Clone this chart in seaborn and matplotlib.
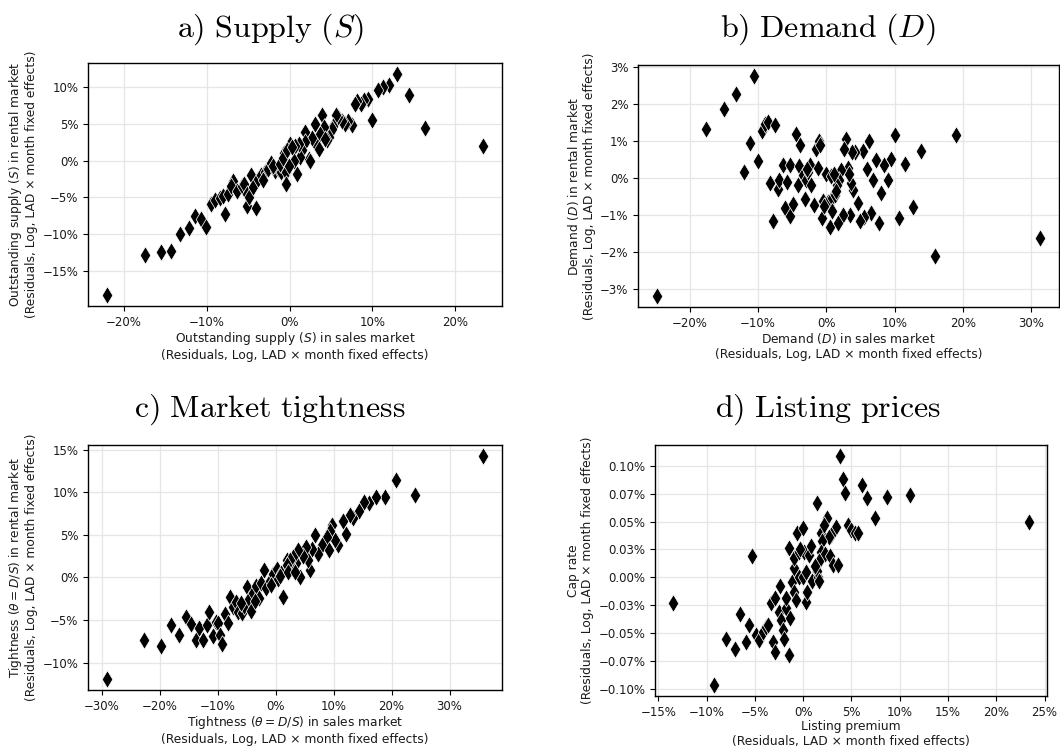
import matplotlib
matplotlib.use("Agg")
import matplotlib.pyplot as plt
from matplotlib.ticker import MultipleLocator, FixedLocator, FuncFormatter
import seaborn as sns

# --- a) Outstanding supply: sales market (x) vs rental market (y), in %
supply_sales = [-22.1, -17.5, -15.6, -14.3, -13.2, -12.2, -11.4, -10.7, -10.1, -9.5,
                -9.0, -8.4, -8.0, -7.8, -7.4, -6.9, -7.1, -6.4, -5.8, -5.5,
                -5.2, -5.1, -4.9, -4.7, -4.4, -4.1, -3.8, -3.4, -3.0, -3.2,
                -2.6, -2.3, -1.8, -1.4, -1.0, -0.65, -0.4, -0.4, -2.0, -1.2,
                -0.8, 13.0, 12.0, 11.3, 10.7, 14.4, 16.4, 23.4, 10.0, 9.5,
                9.05, 8.6, 8.2, 7.9, 7.5, 7.1, 6.7, 6.3, 5.9, 5.6,
                5.3, 5.1, 4.7, 4.5, 3.9, 4.1, 3.7, 3.1, 3.3, 2.7,
                2.3, 1.9, 1.85, 1.5, 1.3, 1.1, 0.7, 0.5, 0.1, -0.1,
                -0.3, 0.85, 0.3, 2.5, 3.5, 4.3]
supply_rental = [-18.2, -12.8, -12.4, -12.2, -9.9, -9.1, -7.5, -7.9, -9.0, -5.9,
                 -5.4, -5.1, -4.8, -7.2, -4.5, -2.8, -3.5, -4.1, -3.4, -3.2,
                 -4.5, -6.2, -5.0, -1.9, -3.6, -6.4, -2.5, -2.0, -1.5, -2.6,
                 -1.1, -0.3, -1.4, -1.1, -1.5, 1.0, -1.6, -3.2, -0.8, -0.5,
                 0.4, 11.7, 10.2, 10.0, 9.5, 8.9, 4.4, 2.0, 5.5, 8.3,
                 8.2, 7.6, 8.0, 7.7, 4.8, 5.4, 4.9, 5.4, 5.9, 6.1,
                 4.7, 4.3, 3.2, 2.8, 6.1, 4.5, 3.6, 4.9, 2.0, 3.1,
                 0.2, 3.8, 2.5, 1.4, 0.5, 2.3, 1.9, -0.1, 2.3, -0.8,
                 1.4, -1.8, 1.8, 0.0, 1.6, 2.9]

# --- b) Demand: sales market (x) vs rental market (y), in %
demand_sales = [-24.8, -17.7, -15.0, -13.3, -10.6, -12.1, -11.2, -9.95, -9.4, -9.0,
                -8.5, -7.5, -8.2, -7.8, -7.1, -6.9, -6.35, -5.7, -5.4, -6.0,
                -5.4, -4.9, -4.5, -3.9, -4.0, -4.1, -3.2, -3.4, -3.0, -2.7,
                -2.4, -2.3, -1.8, -1.2, -1.5, -1.1, -0.6, -0.5, 0.0, 0.5,
                0.7, 0.3, 0.9, 10.1, 19.0, 31.3, 15.9, 13.9, 12.7, 10.7,
                11.6, 9.5, 8.5, 9.0, 8.05, 7.7, 7.3, 6.9, 6.0, 6.3,
                6.6, 5.5, 5.0, 5.4, 4.6, 3.9, 3.6, 4.25, 3.75, 3.4,
                2.5, 2.9, 2.6, 3.1, 3.3, 2.1, 1.8, 1.6, 1.2, 1.1,
                1.7, 0.9, -1.0, -0.4, 1.4, -2.9]
demand_rental = [-3.2, 1.33, 1.86, 2.27, 2.76, 0.16, 0.95, 0.45, 1.28, 1.46,
                 1.5, 1.42, -0.15, -1.18, -0.29, -0.05, 0.34, -0.12, 0.34, -0.81,
                 -1.03, -0.72, 1.19, 0.88, 0.32, -0.2, -0.56, 0.07, -0.05, 0.16,
                 0.36, -0.2, -0.73, 0.26, 0.79, 0.99, -1.09, -0.63, 0.1, -1.32,
                 0.05, -0.66, -0.55, 1.15, 1.15, -1.63, -2.12, 0.73, -0.8, -1.09,
                 0.38, 0.52, 0.34, -0.06, -0.4, -1.23, 0.48, -0.05, 0.25, 0.99,
                 -0.96, -1.05, -1.18, 0.73, -0.69, -0.33, -0.15, 0.7, 0.7, -1.0,
                 -1.0, 1.06, 0.78, 0.28, 0.1, 0.21, -0.05, -0.2, -0.47, 0.1,
                 -1.23, -0.9, 0.9, -0.75, -0.35, 0.25]

# --- c) Market tightness: sales market (x) vs rental market (y), in %
tight_sales = [-29.1, -22.6, -19.8, -18.1, -16.7, -15.5, -14.65, -13.8, -13.2, -12.5,
               -11.9, -11.4, -10.8, -10.2, -9.9, -9.6, -9.2, -8.8, -8.2, -7.8,
               -7.4, -6.8, -6.5, -5.8, -5.5, -5.0, -4.6, -4.2, -3.9, -3.3,
               -2.9, -2.5, -2.0, -1.6, -1.0, -0.5, 0.2, 0.5, 1.3, 1.0,
               1.9, 35.8, 20.8, 24.0, 18.8, 17.4, 16.1, 15.2, 14.3, 13.4,
               12.85, 11.6, 12.2, 10.8, 10.3, 9.7, 9.4, 8.8, 8.0, 7.4,
               6.8, 6.2, 5.9, 5.6, 5.2, 4.8, 4.2, 3.9, 3.6, 3.0,
               2.75, 2.5, 1.9, -0.8, 0.8, 2.2, 3.3, -3.5, -6.0, 9.2]
tight_rental = [-11.9, -7.3, -8.1, -5.6, -6.7, -4.6, -5.5, -7.3, -5.95, -7.3,
                -5.6, -4.05, -6.9, -5.2, -5.4, -6.7, -7.8, -4.25, -5.4, -2.3,
                -3.5, -2.9, -4.0, -4.2, -3.4, -1.1, -2.5, -3.9, -1.8, -1.0,
                -2.4, -0.6, 0.9, -1.2, -0.4, 0.4, 1.0, -0.2, -2.3, 0.5,
                2.0, 14.25, 11.4, 9.65, 9.5, 9.45, 8.7, 8.85, 7.75, 6.97,
                7.35, 6.6, 5.1, 3.8, 4.4, 6.2, 5.4, 4.8, 3.8, 2.8,
                5.0, 3.3, 0.86, 2.0, 3.6, 2.5, 0.07, 3.2, 1.7, 2.4,
                1.1, 2.0, 1.5, -0.9, 0.2, 0.6, 0.6, -2.8, -3.0, 3.2]

# --- d) Listing premium (x, %) vs cap rate (y, %)
listing_premium = [-13.5, -9.25, -7.95, -7.1, -6.5, -5.95, -5.6, -5.3, -4.9, -4.6,
                   -4.2, -3.9, -3.6, -3.3, -2.95, -3.1, -2.9, -2.5, -2.45, -2.3,
                   -2.1, -1.95, -1.8, -1.8, -1.5, -1.35, -1.45, -1.15, -0.9, -0.6,
                   0.03, -1.0, -0.9, -0.4, -0.4, 0.0, 0.27, 0.44, 0.1, 0.6,
                   0.9, 1.47, 1.5, 1.85, 3.83, 4.1, 4.35, 6.1, 6.65, 8.7,
                   11.05, 7.4, 23.4, 2.5, 2.2, 3.4, 2.9, 2.7, 4.6, 4.95,
                   5.4, 5.7, 2.0, 1.8, 2.3, 2.8, 3.1, 3.65, 1.6, 1.4,
                   1.6, 0.8, 1.2, -0.7, -0.3, 0.3]
cap_rate = [-0.0228, -0.0961, -0.0554, -0.0638, -0.0332, -0.0578, -0.0429, 0.0194, -0.0518, -0.056,
            -0.0488, -0.0443, -0.0428, -0.0234, -0.0189, -0.0578, -0.0668, -0.0309, -0.0075, -0.038,
            -0.047, -0.0548, -0.0278, -0.0189, -0.0698, -0.036, 0.026, -0.004, -0.0129, 0.040,
            0.044, 0.008, 0.017, 0.023, 0.0, 0.0, -0.022, -0.013, 0.023, 0.02,
            -0.003, 0.0665, 0.0, 0.04, 0.1084, 0.0883, 0.076, 0.083, 0.0715, 0.0719,
            0.074, 0.0536, 0.0494, 0.0536, 0.047, 0.0455, 0.038, 0.036, 0.047, 0.0425,
            0.0395, 0.040, 0.033, 0.0228, 0.021, 0.019, 0.0115, 0.011, 0.0145, 0.006,
            -0.003, 0.028, 0.01, -0.02, 0.025, 0.005]

cap_rate_ticks = [-0.1, -0.075, -0.05, -0.025, 0.0, 0.025, 0.05, 0.075, 0.1]

FE_LOG = "(Residuals, Log, LAD \u00d7 month fixed effects)"
FE = "(Residuals, LAD \u00d7 month fixed effects)"

sns.set_style("whitegrid", {
    "axes.edgecolor": "black",
    "grid.color": "#e6e6e6",
    "xtick.bottom": True,
    "ytick.left": True,
    "xtick.color": "black",
    "ytick.color": "black",
    "text.color": "black",
    "axes.labelcolor": "black",
})
plt.rcParams["font.family"] = ["DejaVu Sans"]
plt.rcParams["axes.linewidth"] = 1.0


def pct(decimals):
    def f(v, pos):
        if abs(v) < 1e-12:
            v = 0.0
        return f"{v:.{decimals}f}%".replace("-", "\u2212")
    return FuncFormatter(f)


fig = plt.figure(figsize=(10.6, 7.46), dpi=100)

panels = [
    dict(rect=[0.0830, 0.5898, 0.3906, 0.3257], x=supply_sales, y=supply_rental,
         xlabel="Outstanding supply ($S$) in sales market\n" + FE_LOG,
         ylabel="Outstanding supply ($S$) in rental market\n" + FE_LOG,
         xstep=10, ystep=5, ydec=0,
         title=r"$\mathrm{a)\ Supply\ }(S)$", tx=271, ty=29),
    dict(rect=[0.6019, 0.5885, 0.3972, 0.3244], x=demand_sales, y=demand_rental,
         xlabel="Demand ($D$) in sales market\n" + FE_LOG,
         ylabel="Demand ($D$) in rental market\n" + FE_LOG,
         xstep=10, ystep=1, ydec=0,
         title=r"$\mathrm{b)\ Demand\ }(D)$", tx=828, ty=29),
    dict(rect=[0.0830, 0.0751, 0.3906, 0.3284], x=tight_sales, y=tight_rental,
         xlabel="Tightness ($\\theta = D/S$) in sales market\n" + FE_LOG,
         ylabel="Tightness ($\\theta = D/S$) in rental market\n" + FE_LOG,
         xstep=10, ystep=5, ydec=0,
         title=r"$\mathrm{c)\ Market\ tightness}$", tx=270, ty=410),
    dict(rect=[0.6179, 0.0670, 0.3698, 0.3365], x=listing_premium, y=cap_rate,
         xlabel="Listing premium\n" + FE,
         ylabel="Cap rate\n" + FE_LOG,
         xstep=5, ystep=None, ydec=2,
         title=r"$\mathrm{d)\ Listing\ prices}$", tx=828, ty=410),
]

W, H = 1060, 746
for p in panels:
    ax = fig.add_axes(p["rect"])
    sns.scatterplot(x=p["x"], y=p["y"], ax=ax, marker="d", color="black",
                    s=80, edgecolor="white", linewidth=0.5, zorder=3)
    ax.xaxis.set_major_locator(MultipleLocator(p["xstep"]))
    if p["ystep"] is None:
        ax.yaxis.set_major_locator(FixedLocator(cap_rate_ticks))
    else:
        ax.yaxis.set_major_locator(MultipleLocator(p["ystep"]))
    ax.xaxis.set_major_formatter(pct(0))
    ax.yaxis.set_major_formatter(pct(p["ydec"]))
    ax.tick_params(labelsize=8.5, length=3.5, width=0.8, colors="black",
                   labelcolor="#1a1a1a")
    ax.set_xlabel(p["xlabel"], fontsize=8.8, labelpad=1, color="#1a1a1a",
                  linespacing=1.2)
    ax.set_ylabel(p["ylabel"], fontsize=8.8, labelpad=3, color="#1a1a1a",
                  linespacing=1.15)
    for sp in ax.spines.values():
        sp.set_color("black")
        sp.set_linewidth(1.0)
    ax.grid(True, color="#e6e6e6", linewidth=0.9)
    ax.set_axisbelow(True)
    fig.text(p["tx"] / W, 1 - p["ty"] / H, p["title"], ha="center", va="center",
             fontsize=23, color="black", math_fontfamily="cm")

fig.savefig("out.png", dpi=100)
